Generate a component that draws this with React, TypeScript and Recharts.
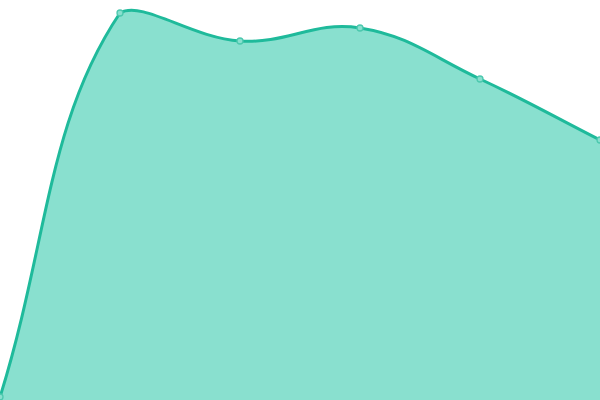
import React from "react";
import { AreaChart, Area, XAxis, YAxis } from "recharts";

const categories = ["A", "B", "C", "D", "E", "F"];
const values = [3, 387, 359, 372, 321, 260];

const data = categories.map((c, i) => ({ name: c, value: values[i] }));

const WIDTH = 600;
const HEIGHT = 400;
const TENSION = 0.4;

type Pt = [number, number];

const clamp = (v: number, lo: number, hi: number) => Math.max(lo, Math.min(hi, v));

function controls(pts: Pt[], i: number, t: number): [Pt, Pt] {
  const cur = pts[i];
  const prev = pts[i - 1] || cur;
  const next = pts[i + 1] || cur;
  const d01 = Math.hypot(cur[0] - prev[0], cur[1] - prev[1]);
  const d12 = Math.hypot(next[0] - cur[0], next[1] - cur[1]);
  const sum = d01 + d12;
  const s01 = sum ? d01 / sum : 0;
  const s12 = sum ? d12 / sum : 0;
  const fa = t * s01;
  const fb = t * s12;
  const vx = next[0] - prev[0];
  const vy = next[1] - prev[1];
  const cap = (p: Pt): Pt => [clamp(p[0], 0, WIDTH), clamp(p[1], 0, HEIGHT)];
  return [cap([cur[0] - fa * vx, cur[1] - fa * vy]), cap([cur[0] + fb * vx, cur[1] + fb * vy])];
}

function makeCurve(t: number) {
  return function (context: any) {
    let pts: Pt[] = [];
    let line: number = NaN;
    return {
      areaStart() {
        line = 0;
      },
      areaEnd() {
        line = NaN;
      },
      lineStart() {
        pts = [];
      },
      lineEnd() {
        const n = pts.length;
        if (n > 0) {
          const [x0, y0] = pts[0];
          if (line) context.lineTo(x0, y0);
          else context.moveTo(x0, y0);
          for (let i = 1; i < n; i++) {
            const c0 = controls(pts, i - 1, t)[1];
            const c1 = controls(pts, i, t)[0];
            context.bezierCurveTo(c0[0], c0[1], c1[0], c1[1], pts[i][0], pts[i][1]);
          }
        }
        if (line) context.closePath();
        line = 1 - line;
      },
      point(x: number, y: number) {
        pts.push([+x, +y]);
      },
    };
  };
}

const smoothCurve = makeCurve(TENSION);

export default function App() {
  return (
    <div style={{ position: "absolute", left: 0, top: 0 }}>
      <AreaChart width={WIDTH} height={HEIGHT} data={data} margin={{ top: 0, right: 0, bottom: 0, left: 0 }}>
        <XAxis dataKey="name" hide />
        <YAxis hide domain={[0, 400]} />
        <Area
          type={smoothCurve as any}
          dataKey="value"
          stroke="#1fba9b"
          strokeWidth={3}
          fill="#89e0cf"
          fillOpacity={1}
          dot={{ r: 3, fill: "#89e0cf", stroke: "#4cc8ae", strokeWidth: 1.3 }}
          activeDot={false}
          isAnimationActive={false}
        />
      </AreaChart>
    </div>
  );
}
